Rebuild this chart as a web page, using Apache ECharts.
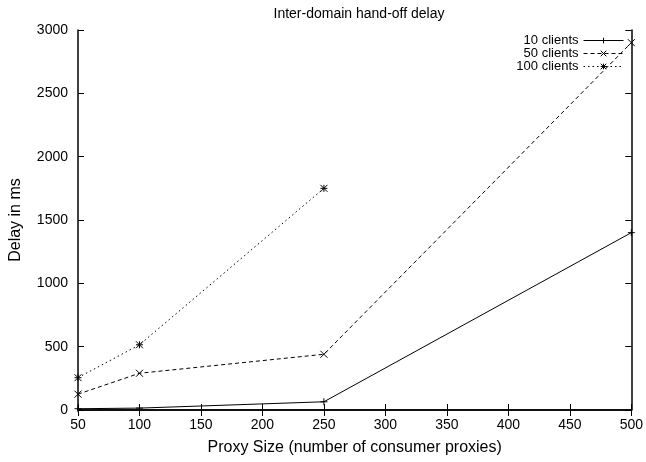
<!DOCTYPE html>
<html>
<head>
<meta charset="utf-8">
<script src="https://cdn.jsdelivr.net/npm/echarts@6/dist/echarts.min.js"></script>
<style>
  html, body { margin: 0; padding: 0; background: #fff; }
  #chart { width: 646px; height: 462px; }
</style>
</head>
<body>
<div id="chart"></div>
<script>
var proxySizes = [50, 100, 250, 500];
var clients10 = [10, 15, 65, 1400];
var clients50 = [125, 290, 440, 2900];
var clients100 = [255, 515, 1750];
var xTicks = [50, 100, 150, 200, 250, 300, 350, 400, 450, 500];
var yTicks = [0, 500, 1000, 1500, 2000, 2500, 3000];

var plus = 'path://M0,5L10,5M5,0L5,10';
var cross = 'path://M0,0L10,10M10,0L0,10';
var star = 'path://M0,0L10,10M10,0L0,10M0,5L10,5M5,0L5,10';

function pairs(xs, ys) {
    return ys.map(function (y, i) { return [xs[i], y]; });
}

var chart = echarts.init(document.getElementById('chart'));
var font = 'Liberation Sans, Arial, sans-serif';
var tick = { show: true, inside: true, length: 6, lineStyle: { color: '#000' } };

function mkSeries(name, data, symbol, type) {
    return {
        name: name,
        type: 'line',
        data: data,
        symbol: symbol,
        symbolSize: 7,
        showSymbol: true,
        itemStyle: { color: 'transparent', borderColor: '#000', borderWidth: 1 },
        lineStyle: { color: '#000', width: 1, type: type },
        emphasis: { disabled: true },
        animation: false
    };
}

chart.setOption({
    animation: false,
    textStyle: { fontFamily: font },
    title: {
        text: 'Inter-domain hand-off delay',
        left: 354,
        textAlign: 'center',
        top: 2,
        textStyle: { fontFamily: font, fontSize: 14, fontWeight: 'normal', color: '#000' }
    },
    grid: { left: 75, right: 13, top: 30, bottom: 52 },
    legend: {
        orient: 'vertical',
        right: 22,
        top: 34,
        padding: 0,
        align: 'right',
        itemWidth: 40,
        itemHeight: 7,
        itemGap: 0,
        lineStyle: { width: 1 },
        itemStyle: { borderWidth: 1 },
        textStyle: { fontFamily: font, fontSize: 13, lineHeight: 12, color: '#000', padding: [0, 0, 0, 0] },
        data: ['10 clients', '50 clients', '100 clients']
    },
    xAxis: [{
        type: 'value',
        min: 50,
        max: 500,
        interval: 50,
        name: 'Proxy Size (number of consumer proxies)',
        nameLocation: 'middle',
        nameGap: 30,
        nameTextStyle: { fontFamily: font, fontSize: 16, color: '#000' },
        axisLine: { show: true, lineStyle: { color: '#000', width: 1.5 } },
        axisTick: tick,
        axisLabel: { fontFamily: font, fontSize: 14, color: '#000', margin: 8 },
        splitLine: { show: false }
    }, {
        type: 'value',
        position: 'top',
        min: 50,
        max: 500,
        interval: 50,
        axisLine: { show: true, lineStyle: { color: '#000', width: 1.5 } },
        axisTick: tick,
        axisLabel: { show: false },
        splitLine: { show: false }
    }],
    yAxis: [{
        type: 'value',
        min: 0,
        max: 3000,
        interval: 500,
        name: 'Delay in ms',
        nameLocation: 'middle',
        nameGap: 54,
        nameTextStyle: { fontFamily: font, fontSize: 16, color: '#000' },
        axisLine: { show: true, lineStyle: { color: '#000', width: 1.5 } },
        axisTick: tick,
        axisLabel: {
            fontFamily: font, fontSize: 14, color: '#000', margin: 10,
            formatter: function (v) { return String(v); }
        },
        splitLine: { show: false }
    }, {
        type: 'value',
        position: 'right',
        min: 0,
        max: 3000,
        interval: 500,
        axisLine: { show: true, lineStyle: { color: '#000', width: 1.5 } },
        axisTick: tick,
        axisLabel: { show: false },
        splitLine: { show: false }
    }],
    series: [
        mkSeries('10 clients', pairs(proxySizes, clients10), plus, 'solid'),
        mkSeries('50 clients', pairs(proxySizes, clients50), cross, [4, 3]),
        mkSeries('100 clients', pairs(proxySizes, clients100), star, [1.5, 3])
    ]
});

window.addEventListener('resize', function () {
    chart.resize();
});
</script>
</body>
</html>
